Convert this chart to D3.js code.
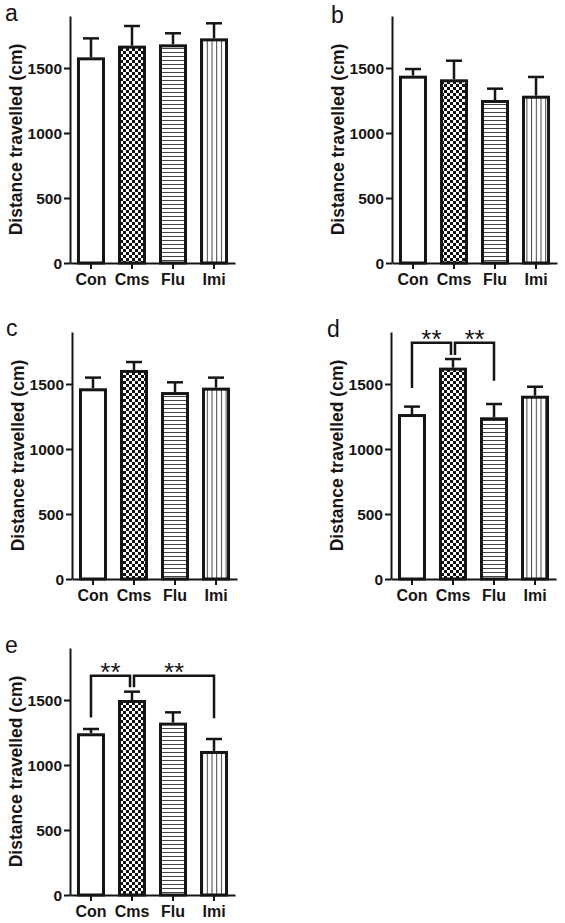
<!DOCTYPE html>
<html>
<head>
<meta charset="utf-8">
<script src="https://cdn.jsdelivr.net/npm/d3@7"></script>
<style>
  html, body { margin: 0; padding: 0; background: #fff; }
  svg { display: block; font-family: "Liberation Sans", Arial, sans-serif; }
</style>
</head>
<body>
<svg id="chart" width="565" height="923"></svg>
<script>
// ---- data ----
const categories = ["Con", "Cms", "Flu", "Imi"];
const yTicks = [0, 500, 1000, 1500];
const yMax = 1900;
const panelLabels = ["a", "b", "c", "d", "e"];
const meansA = [1582, 1672, 1682, 1728];
const errA   = [146, 151, 85, 116];
const meansB = [1441, 1413, 1254, 1287];
const errB   = [51, 143, 87, 144];
const meansC = [1467, 1608, 1438, 1472];
const errC   = [82, 61, 75, 77];
const meansD = [1269, 1626, 1244, 1410];
const errD   = [57, 66, 102, 69];
const meansE = [1244, 1500, 1326, 1108];
const errE   = [33, 64, 79, 92];
// significance brackets: from, to, bracket level, left leg end, right leg end (data units)
const sigD = [
  { from: "Con", to: "Cms", level: 1818, left: 1469, right: 1723, label: "**" },
  { from: "Cms", to: "Flu", level: 1818, left: 1723, right: 1525, label: "**" }
];
const sigE = [
  { from: "Con", to: "Cms", level: 1687, left: 1366, right: 1598, label: "**" },
  { from: "Cms", to: "Imi", level: 1687, left: 1598, right: 1359, label: "**" }
];
const yTitle = "Distance travelled (cm)";

// ---- layout ----
const panels = [
  { label: panelLabels[0], means: meansA, err: errA, sig: [], ax: 70,  base: 263, lx: 5,   ly: 21 },
  { label: panelLabels[1], means: meansB, err: errB, sig: [], ax: 392, base: 263, lx: 331, ly: 23 },
  { label: panelLabels[2], means: meansC, err: errC, sig: [], ax: 72,  base: 579, lx: 6,   ly: 336 },
  { label: panelLabels[3], means: meansD, err: errD, sig: sigD, ax: 391, base: 579, lx: 327, ly: 337 },
  { label: panelLabels[4], means: meansE, err: errE, sig: sigE, ax: 70,  base: 895, lx: 5,   ly: 653 }
];
const plotH = 247;
const ink = "#151515";

const svg = d3.select("#chart");
const defs = svg.append("defs");

// checkerboard
const chk = defs.append("pattern").attr("id", "pCms").attr("patternUnits", "userSpaceOnUse")
  .attr("width", 6).attr("height", 6);
chk.append("rect").attr("width", 6).attr("height", 6).attr("fill", "#fff");
chk.append("rect").attr("width", 3).attr("height", 3).attr("fill", "#111");
chk.append("rect").attr("x", 3).attr("y", 3).attr("width", 3).attr("height", 3).attr("fill", "#111");
// horizontal lines
const hz = defs.append("pattern").attr("id", "pFlu").attr("patternUnits", "userSpaceOnUse")
  .attr("width", 4).attr("height", 4);
hz.append("rect").attr("width", 4).attr("height", 4).attr("fill", "#fff");
hz.append("rect").attr("y", 0).attr("width", 4).attr("height", 1).attr("fill", "#444");
// vertical lines
const vt = defs.append("pattern").attr("id", "pImi").attr("patternUnits", "userSpaceOnUse")
  .attr("width", 4.7).attr("height", 4);
vt.append("rect").attr("width", 4.7).attr("height", 4).attr("fill", "#fff");
vt.append("rect").attr("x", 0).attr("width", 1).attr("height", 4).attr("fill", "#444");

const fills = { Con: "#fff", Cms: "url(#pCms)", Flu: "url(#pFlu)", Imi: "url(#pImi)" };

panels.forEach(p => {
  const g = svg.append("g");
  const y = d3.scaleLinear().domain([0, yMax]).range([p.base, p.base - plotH]);
  const x = d3.scaleBand().domain(categories).range([p.ax, p.ax + 165])
    .paddingInner(0.317).paddingOuter(0.17);
  const bw = x.bandwidth();
  const cx = c => x(c) + bw / 2;
  const rows = categories.map((c, i) => ({ c, m: p.means[i], e: p.err[i] }));

  // error bars (upper only)
  const eg = g.append("g").attr("stroke", ink).attr("stroke-width", 2.5).attr("fill", "none");
  eg.selectAll("line.v").data(rows).join("line")
    .attr("x1", d => cx(d.c)).attr("x2", d => cx(d.c))
    .attr("y1", d => y(d.m)).attr("y2", d => y(d.m + d.e));
  eg.selectAll("line.h").data(rows).join("line").attr("class", "h")
    .attr("x1", d => cx(d.c) - 8).attr("x2", d => cx(d.c) + 8)
    .attr("y1", d => y(d.m + d.e)).attr("y2", d => y(d.m + d.e));

  // bars
  g.append("g").selectAll("rect").data(rows).join("rect")
    .attr("x", d => x(d.c) + 1.5).attr("width", bw - 3)
    .attr("y", d => y(d.m) + 1.5).attr("height", d => y(0) - y(d.m) - 1.5)
    .attr("fill", d => fills[d.c]).attr("stroke", ink).attr("stroke-width", 3);

  // y axis
  const ya = g.append("g").attr("transform", `translate(${p.ax},0)`)
    .call(d3.axisLeft(y).tickValues(yTicks).tickFormat(d3.format("d")).tickSize(6).tickSizeOuter(0).tickPadding(2));
  ya.select(".domain").attr("stroke", ink).attr("stroke-width", 2);
  ya.selectAll(".tick line").attr("stroke", ink).attr("stroke-width", 2);
  ya.selectAll(".tick text").attr("fill", ink).attr("font-size", 15.5).attr("font-weight", "bold")
    .attr("font-family", "Liberation Sans, Arial, sans-serif").attr("dy", "0.36em");

  // x axis
  const xa = g.append("g").attr("transform", `translate(0,${p.base})`)
    .call(d3.axisBottom(x).tickSize(6).tickSizeOuter(0).tickPadding(5));
  xa.select(".domain").attr("stroke", ink).attr("stroke-width", 2);
  xa.selectAll(".tick line").attr("stroke", ink).attr("stroke-width", 2);
  xa.selectAll(".tick text").attr("fill", ink).attr("font-size", 16).attr("font-weight", "bold")
    .attr("font-family", "Liberation Sans, Arial, sans-serif");

  // y title
  g.append("text")
    .attr("transform", `translate(${p.ax - 48},${p.base - plotH / 2}) rotate(-90)`)
    .attr("text-anchor", "middle").attr("font-size", 17.5).attr("font-weight", "bold").attr("fill", ink)
    .text(yTitle);

  // panel letter
  g.append("text").attr("x", p.lx).attr("y", p.ly).attr("font-size", 23).attr("fill", ink).text(p.label);

  // significance brackets
  p.sig.forEach(s => {
    const x1 = cx(s.from) + (s.from === "Cms" ? 2 : 0);
    const x2 = cx(s.to) - (s.to === "Cms" ? 2 : 0);
    const yl = y(s.level);
    g.append("path")
      .attr("d", `M${x1},${y(s.left)}V${yl}H${x2}V${y(s.right)}`)
      .attr("fill", "none").attr("stroke", ink).attr("stroke-width", 2.5);
    g.append("text").attr("x", (x1 + x2) / 2).attr("y", yl + 5)
      .attr("text-anchor", "middle").attr("font-size", 26).attr("fill", ink).text(s.label);
  });
});
</script>
</body>
</html>
